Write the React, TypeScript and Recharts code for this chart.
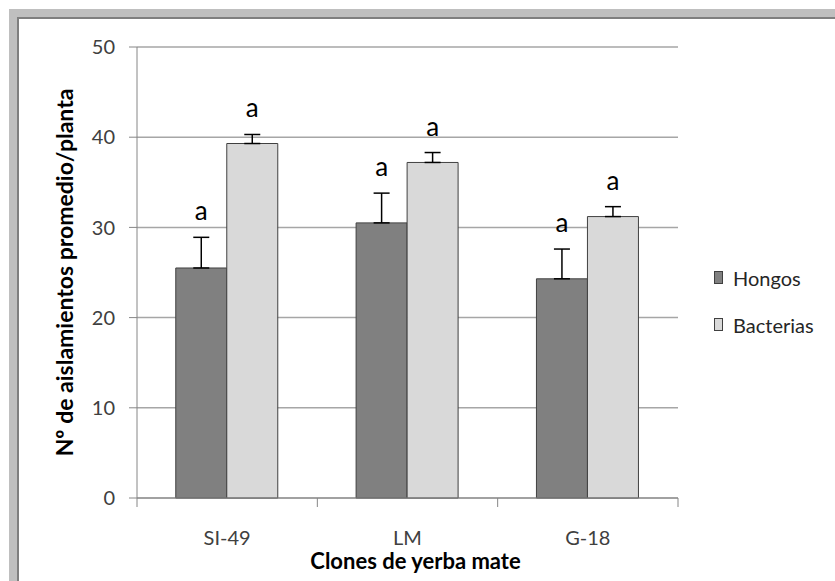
import React from 'react';
import { BarChart, Bar, XAxis, YAxis, CartesianGrid, ErrorBar, LabelList } from 'recharts';

const categories = ['SI-49', 'LM', 'G-18'];
const hongos = [25.5, 30.5, 24.3];
const hongosErr = [3.4, 3.3, 3.3];
const hongosLetters = ['a', 'a', 'a'];
const bacterias = [39.3, 37.2, 31.2];
const bacteriasErr = [1.0, 1.1, 1.1];
const bacteriasLetters = ['a', 'a', 'a'];
const yTicks = [0, 10, 20, 30, 40, 50];
const seriesNames = ['Hongos', 'Bacterias'];

const data = categories.map((clone, i) => ({
  clone,
  hongos: hongos[i],
  hongosErr: [0, hongosErr[i]],
  hongosLetter: hongosLetters[i],
  bacterias: bacterias[i],
  bacteriasErr: [0, bacteriasErr[i]],
  bacteriasLetter: bacteriasLetters[i],
}));

const FONT = 'Lato, "Open Sans", sans-serif';
const HONGOS_FILL = '#808080';
const BACT_FILL = '#d9d9d9';
const EDGE = '#404040';
const AXIS = '#868686';

// letter placed above the error bar, using the bar's own pixel scale
const letterLabel = (values: number[], errs: number[]) => (props: any) => {
  const { x, y, width, height, value, index } = props;
  const pxPerUnit = height / values[index];
  const top = y - errs[index] * pxPerUnit;
  return (
    <text x={x + width / 2} y={top - 17} textAnchor="middle" fontSize={26} fontFamily={FONT} fill="#000">
      {value}
    </text>
  );
};

// Excel style: tick marks between categories, label in the middle
const XTick = (props: any) => {
  const { x, y, payload, index } = props;
  const half = payload.offset || 90;
  return (
    <g>
      <line x1={x - half} y1={y} x2={x - half} y2={y + 9} stroke={AXIS} />
      {index === categories.length - 1 && <line x1={x + half} y1={y} x2={x + half} y2={y + 9} stroke={AXIS} />}
      <text x={x} y={y + 47} textAnchor="middle" fontSize={20} fontFamily={FONT} fill="#404040">
        {payload.value}
      </text>
    </g>
  );
};

const xTitle = (props: any) => {
  const vb = props.viewBox || { x: 137, y: 498, width: 541 };
  return (
    <text x={vb.x + vb.width / 2 + 8} y={vb.y + 71} textAnchor="middle" fontSize={22} fontWeight="bold" fontFamily={FONT} fill="#000">
      Clones de yerba mate
    </text>
  );
};

const yTitle = (props: any) => {
  const vb = props.viewBox || { x: 77, y: 47, width: 60, height: 451 };
  const cx = vb.x - 13;
  const cy = vb.y + vb.height / 2;
  return (
    <text x={cx} y={cy} transform={`rotate(-90 ${cx} ${cy})`} textAnchor="middle" dominantBaseline="central" fontSize={23} fontWeight="bold" fontFamily={FONT} fill="#000">
      Nº de aislamientos promedio/planta
    </text>
  );
};

export default function App() {
  const fills = [HONGOS_FILL, BACT_FILL];
  return (
    <div style={{ position: 'absolute', left: 0, top: 0, width: 835, height: 581, background: '#fff', overflow: 'hidden' }}>
      <div style={{ position: 'absolute', left: 9, top: 9, width: 840, height: 590, borderTop: '8px solid #bfbfbf', borderLeft: '8px solid #bfbfbf' }}>
        <div style={{ width: '100%', height: '100%', borderTop: '2px solid #7f7f7f', borderLeft: '2px solid #7f7f7f' }} />
      </div>
      <div style={{ position: 'absolute', left: 0, top: 0 }}>
        <BarChart width={835} height={581} data={data} margin={{ top: 47, right: 157, bottom: 0, left: 77 }} barCategoryGap="21.5%" barGap={0}>
          <CartesianGrid vertical={false} stroke="#a6a6a6" strokeWidth={1.5} />
          <XAxis
            dataKey="clone"
            height={83}
            stroke={AXIS}
            tickLine={false}
            tickSize={0}
            tickMargin={0}
            tick={<XTick />}
            interval={0}
            label={xTitle}
          />
          <YAxis
            width={60}
            domain={[0, 50]}
            ticks={yTicks}
            stroke={AXIS}
            tickSize={8}
            tickMargin={14}
            tick={{ fontSize: 20, fontFamily: FONT, fill: '#404040' }}
            label={yTitle}
          />
          <Bar dataKey="hongos" name={seriesNames[0]} fill={HONGOS_FILL} stroke={EDGE} strokeWidth={1} isAnimationActive={false}>
            <ErrorBar dataKey="hongosErr" width={8} stroke="#000" strokeWidth={1.5} />
            <LabelList dataKey="hongosLetter" content={letterLabel(hongos, hongosErr)} />
          </Bar>
          <Bar dataKey="bacterias" name={seriesNames[1]} fill={BACT_FILL} stroke={EDGE} strokeWidth={1} isAnimationActive={false}>
            <ErrorBar dataKey="bacteriasErr" width={8} stroke="#000" strokeWidth={1.5} />
            <LabelList dataKey="bacteriasLetter" content={letterLabel(bacterias, bacteriasErr)} />
          </Bar>
        </BarChart>
      </div>
      <div style={{ position: 'absolute', left: 714, top: 254, fontFamily: FONT, fontSize: 20, color: '#262626' }}>
        {seriesNames.map((name, i) => (
          <div key={name} style={{ display: 'flex', alignItems: 'center', height: 47 }}>
            <div style={{ width: 7, height: 11, background: fills[i], border: `1px solid ${EDGE}`, marginRight: 10 }} />
            <span>{name}</span>
          </div>
        ))}
      </div>
    </div>
  );
}
